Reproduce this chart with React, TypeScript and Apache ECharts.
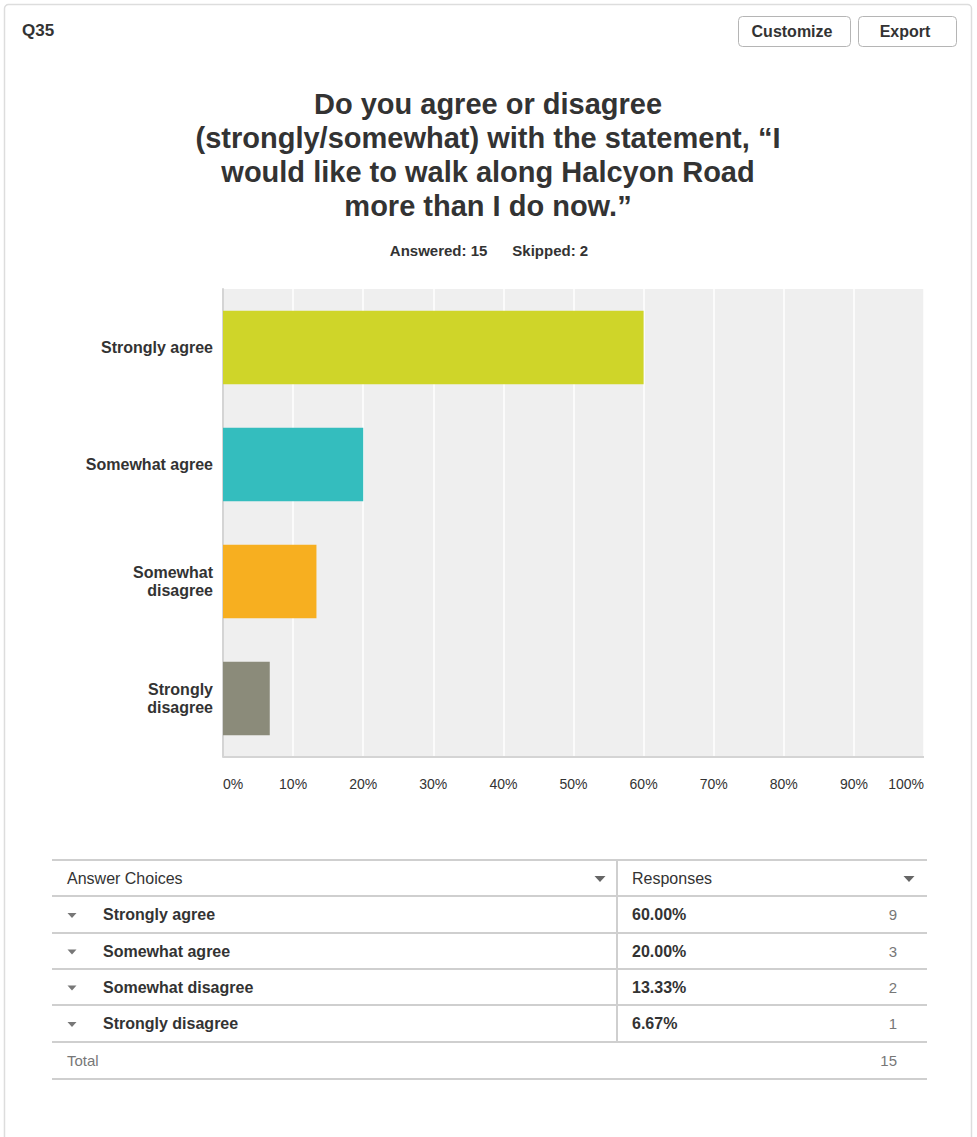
import React, { useEffect, useRef } from "react";
import * as echarts from "echarts";

const questionId = "Q35";
const titleLines = [
  "Do you agree or disagree",
  "(strongly/somewhat) with the statement, \u201cI",
  "would like to walk along Halcyon Road",
  "more than I do now.\u201d",
];
const answeredCount = 15;
const skippedCount = 2;
const categories = ["Strongly agree", "Somewhat agree", "Somewhat disagree", "Strongly disagree"];
const percentValues = [60, 20, 13.33, 6.67];
const responseCounts = [9, 3, 2, 1];
const totalCount = 15;
const barColors = ["#cfd529", "#34bdbe", "#f7af20", "#8b8b7a"];
const tickLabels = ["0%", "10%", "20%", "30%", "40%", "50%", "60%", "70%", "80%", "90%", "100%"];

const FONT = "'Liberation Sans', Arial, Helvetica, sans-serif";
const TXT = "#333333";

function tri(cx: number, cy: number, w: number, h: number, color: string) {
  return {
    type: "polygon",
    shape: { points: [[cx - w / 2, cy - h / 2], [cx + w / 2, cy - h / 2], [cx, cy + h / 2]] },
    style: { fill: color },
    silent: true,
  };
}

export default function App() {
  const ref = useRef<HTMLDivElement>(null);
  useEffect(() => {
    document.body.style.margin = "0";
    const chart = echarts.init(ref.current!, undefined, { renderer: "svg" });

    const graphics: any[] = [];
    graphics.push({
      type: "rect",
      shape: { x: 4.5, y: 4.5, width: 967, height: 1150, r: 4 },
      style: { fill: "#ffffff", stroke: "#dddddd", lineWidth: 1.5 },
      z: -10,
      silent: true,
    });
    graphics.push({
      type: "text",
      x: 22,
      y: 30,
      style: { text: questionId, font: `bold 17px ${FONT}`, fill: TXT, verticalAlign: "middle" },
    });
    const buttons = [
      { label: "Customize", x: 738, w: 112 },
      { label: "Export", x: 858, w: 98 },
    ];
    buttons.forEach((b) => {
      graphics.push({
        type: "rect",
        shape: { x: b.x + 0.5, y: 16.5, width: b.w, height: 30, r: 4 },
        style: { fill: "#ffffff", stroke: "#b5b5b5", lineWidth: 1 },
      });
      graphics.push({
        type: "text",
        x: b.x + b.w / 2 - 2,
        y: 31,
        style: { text: b.label, font: `bold 16px ${FONT}`, fill: TXT, align: "center", verticalAlign: "middle" },
      });
    });
    titleLines.forEach((line, i) => {
      graphics.push({
        type: "text",
        x: 488,
        y: 104 + i * 34,
        style: { text: line, font: `bold 29px ${FONT}`, fill: TXT, align: "center", verticalAlign: "middle" },
      });
    });
    graphics.push({
      type: "text",
      x: 489,
      y: 250,
      style: {
        text: `Answered: ${answeredCount}      Skipped: ${skippedCount}`,
        font: `bold 15px ${FONT}`,
        fill: TXT,
        align: "center",
        verticalAlign: "middle",
      },
    });

    const tL = 52, tR = 927, divX = 617;
    const lines = [860, 896, 933, 969, 1005, 1042, 1079];
    lines.forEach((y) => {
      graphics.push({
        type: "line",
        shape: { x1: tL, y1: y, x2: tR, y2: y },
        style: { stroke: "#cfcfcf", lineWidth: 2 },
        silent: true,
      });
    });
    graphics.push({
      type: "line",
      shape: { x1: divX, y1: 860, x2: divX, y2: 1042 },
      style: { stroke: "#cfcfcf", lineWidth: 2 },
      silent: true,
    });
    const hdrY = 878;
    graphics.push({
      type: "text", x: 67, y: hdrY,
      style: { text: "Answer Choices", font: `16px ${FONT}`, fill: TXT, verticalAlign: "middle" },
    });
    graphics.push(tri(600, hdrY + 1, 11, 6, "#666666"));
    graphics.push({
      type: "text", x: 632, y: hdrY,
      style: { text: "Responses", font: `16px ${FONT}`, fill: TXT, verticalAlign: "middle" },
    });
    graphics.push(tri(909, hdrY + 1, 11, 6, "#666666"));
    categories.forEach((c, i) => {
      const y = (lines[i + 1] + lines[i + 2]) / 2;
      graphics.push(tri(72, y + 1, 9, 5, "#777777"));
      graphics.push({
        type: "text", x: 103, y,
        style: { text: c, font: `bold 16px ${FONT}`, fill: TXT, verticalAlign: "middle" },
      });
      graphics.push({
        type: "text", x: 632, y,
        style: { text: percentValues[i].toFixed(2) + "%", font: `bold 16px ${FONT}`, fill: TXT, verticalAlign: "middle" },
      });
      graphics.push({
        type: "text", x: 897, y,
        style: { text: String(responseCounts[i]), font: `15px ${FONT}`, fill: "#777777", align: "right", verticalAlign: "middle" },
      });
    });
    const totY = (lines[5] + lines[6]) / 2;
    graphics.push({
      type: "text", x: 67, y: totY,
      style: { text: "Total", font: `15px ${FONT}`, fill: "#777777", verticalAlign: "middle" },
    });
    graphics.push({
      type: "text", x: 897, y: totY,
      style: { text: String(totalCount), font: `15px ${FONT}`, fill: "#777777", align: "right", verticalAlign: "middle" },
    });

    chart.setOption({
      animation: false,
      backgroundColor: "transparent",
      textStyle: { fontFamily: FONT },
      grid: {
        left: 223,
        right: 53,
        top: 289,
        bottom: 1137 - 757,
        containLabel: false,
        show: true,
        backgroundColor: "#efefef",
        borderWidth: 0,
      },
      xAxis: {
        type: "value",
        min: 0,
        max: 100,
        interval: 10,
        axisLine: { show: false },
        axisTick: { show: false },
        splitLine: { show: true, lineStyle: { color: "#ffffff", width: 1.5 } },
        axisLabel: {
          color: TXT,
          fontSize: 14,
          fontFamily: FONT,
          margin: 20,
          alignMinLabel: "left",
          alignMaxLabel: "right",
          formatter: (v: number) => tickLabels[Math.round(v / 10)],
        },
      },
      yAxis: {
        type: "category",
        data: categories,
        inverse: true,
        axisLine: { show: true, lineStyle: { color: "#d4d4d4", width: 2 } },
        axisTick: { show: false },
        splitLine: { show: false },
        axisLabel: {
          color: TXT,
          fontSize: 16,
          fontWeight: "bold",
          fontFamily: FONT,
          margin: 10,
          lineHeight: 18,
          align: "right",
          formatter: (v: string) => (v.length > 15 ? v.replace(" ", "\n") : v),
        },
      },
      series: [
        {
          type: "bar",
          data: percentValues.map((v, i) => ({ value: v, itemStyle: { color: barColors[i] } })),
          barCategoryGap: "37%",
          silent: true,
        },
      ],
      graphic: [
        ...graphics,
        {
          type: "line",
          shape: { x1: 223, y1: 757, x2: 924, y2: 757 },
          style: { stroke: "#d4d4d4", lineWidth: 2 },
          silent: true,
          z: 100,
        },
      ],
    });
    return () => chart.dispose();
  }, []);
  return <div ref={ref} style={{ width: 977, height: 1137 }} />;
}
